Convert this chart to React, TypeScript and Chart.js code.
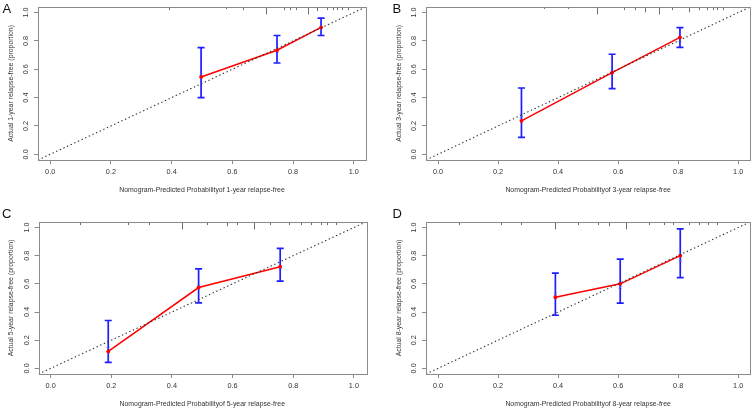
import React, { useEffect, useRef } from "react";
import { Chart, registerables } from "chart.js";

Chart.register(...registerables);

// ---------- data ----------
const tickValues = [0, 0.2, 0.4, 0.6, 0.8, 1.0];
const panelLetters = ["A", "B", "C", "D"];
const horizons = ["1-year", "3-year", "5-year", "8-year"];

// Panel A (1-year)
const predA = [0.497, 0.747, 0.892];
const obsA = [0.546, 0.734, 0.895];
const lowA = [0.40, 0.644, 0.838];
const upA = [0.752, 0.838, 0.96];
const corrA = [0.565, 0.725, 0.885];
const rugXA = [0.39, 0.58, 0.635, 0.71, 0.77, 0.79, 0.81, 0.85, 0.88, 0.91, 0.93, 0.946, 0.96, 0.98];
const rugNA = [1, 0.5, 1, 3, 1, 1, 1, 3, 1.5, 1, 1, 1, 1, 1];

// Panel B (3-year)
const predB = [0.278, 0.58, 0.806];
const obsB = [0.236, 0.576, 0.825];
const lowB = [0.12, 0.463, 0.755];
const upB = [0.468, 0.706, 0.894];
const corrB = [0.27, 0.585, 0.805];
const rugXB = [0.352, 0.434, 0.53, 0.62, 0.655, 0.69, 0.735, 0.78, 0.836, 0.868, 0.895, 0.915, 0.93, 0.948];
const rugNB = [0.5, 0.5, 3, 1, 1, 2, 3, 1, 2, 1, 1, 1, 1, 1];

// Panel C (5-year)
const predC = [0.19, 0.488, 0.757];
const obsC = [0.12, 0.574, 0.722];
const lowC = [0.042, 0.465, 0.62];
const upC = [0.34, 0.706, 0.852];
const corrC = [0.14, 0.585, 0.71];
const rugXC = [0.096, 0.255, 0.325, 0.434, 0.515, 0.58, 0.615, 0.67, 0.725, 0.785, 0.825, 0.857, 0.89, 0.91, 0.94];
const rugNC = [1, 1, 1, 3, 1, 1.5, 1, 3, 1, 1, 1, 1, 1, 1, 1];

// Panel D (8-year)
const predD = [0.391, 0.607, 0.807];
const obsD = [0.505, 0.60, 0.80];
const lowD = [0.377, 0.463, 0.644];
const upD = [0.676, 0.776, 0.991];
const corrD = [0.528, 0.575, 0.765];
const rugXD = [0.071, 0.21, 0.276, 0.39, 0.467, 0.532, 0.57, 0.626, 0.704, 0.754, 0.782, 0.835, 0.868, 0.9, 0.93];
const rugND = [1, 1, 1, 3, 1, 1, 1.5, 3, 1, 1, 1, 1, 1, 1, 1];

const panelData = [
  { pred: predA, obs: obsA, low: lowA, up: upA, corr: corrA, rugX: rugXA, rugN: rugNA },
  { pred: predB, obs: obsB, low: lowB, up: upB, corr: corrB, rugX: rugXB, rugN: rugNB },
  { pred: predC, obs: obsC, low: lowC, up: upC, corr: corrC, rugX: rugXC, rugN: rugNC },
  { pred: predD, obs: obsD, low: lowD, up: upD, corr: corrD, rugX: rugXD, rugN: rugND },
];

// ---------- layout (not data) ----------
const AXIS_MIN = -0.04;
const AXIS_MAX = 1.04;
const FONT = "Arial, 'Liberation Sans', sans-serif";
const TICK_FONT = 7.3;
const TITLE_FONT = 6.9;

const layouts = [
  { left: 0, top: 0, w: 378, h: 205, boxLeft: 38, boxRight: 366, boxTop: 3, boxBottom: 160, titleFromBottom: 15 },
  { left: 378, top: 0, w: 377, h: 205, boxLeft: 48, boxRight: 374, boxTop: 3, boxBottom: 160, titleFromBottom: 15 },
  { left: 0, top: 215, w: 378, h: 195, boxLeft: 38.5, boxRight: 366, boxTop: 3, boxBottom: 159, titleFromBottom: 6 },
  { left: 378, top: 215, w: 377, h: 195, boxLeft: 48, boxRight: 374, boxTop: 3, boxBottom: 159, titleFromBottom: 6 },
];
const letterPos = [
  { left: 2.5, top: 1.7 },
  { left: 392.5, top: 1.7 },
  { left: 2, top: 206.8 },
  { left: 392.5, top: 206.8 },
];

const calibPlugin = {
  id: "calib",
  beforeDatasetsDraw(chart: any, _args: any, opts: any) {
    const { ctx, chartArea, scales } = chart;
    const x = scales.x;
    const y = scales.y;
    ctx.save();
    // frequency ticks along the top edge
    ctx.strokeStyle = "#6e6e6e";
    ctx.lineWidth = 1;
    opts.rugX.forEach((v: number, i: number) => {
      const px = Math.round(x.getPixelForValue(v)) + 0.5;
      ctx.beginPath();
      ctx.moveTo(px, chartArea.top);
      ctx.lineTo(px, chartArea.top + 1 + opts.rugN[i] * 2.2);
      ctx.stroke();
    });
    // error bars
    ctx.strokeStyle = "#1e1eff";
    ctx.lineWidth = 1.7;
    opts.pred.forEach((p: number, i: number) => {
      const px = x.getPixelForValue(p);
      const y1 = y.getPixelForValue(opts.low[i]);
      const y2 = y.getPixelForValue(opts.up[i]);
      ctx.beginPath();
      ctx.moveTo(px, y1);
      ctx.lineTo(px, y2);
      ctx.moveTo(px - 3.5, y1);
      ctx.lineTo(px + 3.5, y1);
      ctx.moveTo(px - 3.5, y2);
      ctx.lineTo(px + 3.5, y2);
      ctx.stroke();
    });
    ctx.restore();
  },
  afterDraw(chart: any) {
    const { ctx, chartArea } = chart;
    ctx.save();
    ctx.strokeStyle = "#8a8a8a";
    ctx.lineWidth = 1;
    ctx.strokeRect(
      Math.round(chartArea.left) + 0.5,
      Math.round(chartArea.top) + 0.5,
      Math.round(chartArea.right - chartArea.left),
      Math.round(chartArea.bottom - chartArea.top)
    );
    ctx.restore();
  },
};

function Panel({ idx }: { idx: number }) {
  const ref = useRef<HTMLCanvasElement | null>(null);
  const L = layouts[idx];
  useEffect(() => {
    const d = panelData[idx];
    const h = horizons[idx];
    const titleLH = TITLE_FONT * 1.2;
    const yW = L.boxLeft;
    const xH = L.h - L.boxBottom;
    const chart = new Chart(ref.current as HTMLCanvasElement, {
      type: "scatter",
      data: {
        datasets: [
          {
            data: [
              { x: AXIS_MIN, y: AXIS_MIN },
              { x: AXIS_MAX, y: AXIS_MAX },
            ],
            showLine: true,
            borderColor: "#333333",
            borderWidth: 1.1,
            borderDash: [1.4, 2.6],
            pointRadius: 0,
          },
          {
            data: d.pred.map((p, i) => ({ x: p, y: d.obs[i] })),
            showLine: true,
            borderColor: "#ff0000",
            borderWidth: 1.5,
            pointRadius: 1.9,
            pointBackgroundColor: "#ff0000",
            pointBorderWidth: 0,
          },
          {
            data: d.pred.map((p, i) => ({ x: p, y: d.corr[i] })),
            showLine: false,
            pointStyle: "crossRot",
            pointRadius: 1.8,
            borderColor: "#5050ff",
            borderWidth: 0.8,
          },
        ],
      },
      options: {
        animation: false,
        responsive: false,
        events: [],
        layout: {
          padding: { left: 0, top: L.boxTop, right: L.w - L.boxRight, bottom: 0 },
        },
        plugins: {
          legend: { display: false },
          tooltip: { enabled: false },
          calib: d,
        } as any,
        scales: {
          x: {
            type: "linear",
            min: AXIS_MIN,
            max: AXIS_MAX,
            afterBuildTicks: (s: any) => {
              s.ticks = tickValues.map((v) => ({ value: v }));
            },
            afterFit: (s: any) => {
              s.height = xH;
            },
            ticks: {
              callback: (v: any) => Number(v).toFixed(1),
              font: { family: FONT, size: TICK_FONT },
              color: "#333333",
              padding: 4,
              maxRotation: 0,
              autoSkip: false,
            },
            grid: {
              display: true,
              drawOnChartArea: false,
              drawTicks: true,
              tickLength: 4,
              color: "#8a8a8a",
            },
            border: { display: false },
            title: {
              display: true,
              text: `Nomogram-Predicted Probabilityof ${h} relapse-free`,
              font: { family: FONT, size: TITLE_FONT },
              color: "#333333",
              padding: { top: 0, bottom: L.titleFromBottom - titleLH / 2 },
            },
          },
          y: {
            type: "linear",
            min: AXIS_MIN,
            max: AXIS_MAX,
            afterBuildTicks: (s: any) => {
              s.ticks = tickValues.map((v) => ({ value: v }));
            },
            afterFit: (s: any) => {
              s.width = yW;
            },
            ticks: {
              callback: (v: any) => Number(v).toFixed(1),
              font: { family: FONT, size: TICK_FONT },
              color: "#333333",
              padding: 2.5,
              minRotation: 90,
              maxRotation: 90,
              crossAlign: "center",
              autoSkip: false,
            },
            grid: {
              display: true,
              drawOnChartArea: false,
              drawTicks: true,
              tickLength: 4,
              color: "#8a8a8a",
            },
            border: { display: false },
            title: {
              display: true,
              text: `Actual ${h} relapse-free (proportion)`,
              font: { family: FONT, size: TITLE_FONT },
              color: "#333333",
              padding: { top: yW - 27 - titleLH / 2, bottom: 0 },
            },
          },
        },
      },
      plugins: [calibPlugin as any],
    });
    return () => chart.destroy();
  }, [idx]);
  return (
    <canvas
      ref={ref}
      width={L.w}
      height={L.h}
      style={{ position: "absolute", left: L.left, top: L.top, width: L.w, height: L.h }}
    />
  );
}

export default function App() {
  return (
    <div
      style={{
        position: "absolute",
        left: 0,
        top: 0,
        width: 755,
        height: 410,
        background: "#ffffff",
        overflow: "hidden",
      }}
    >
      {[0, 1, 2, 3].map((i) => (
        <Panel key={i} idx={i} />
      ))}
      {panelLetters.map((t, i) => (
        <div
          key={t}
          style={{
            position: "absolute",
            left: letterPos[i].left,
            top: letterPos[i].top,
            fontFamily: FONT,
            fontSize: 13,
            lineHeight: "13px",
            color: "#111111",
          }}
        >
          {t}
        </div>
      ))}
    </div>
  );
}
